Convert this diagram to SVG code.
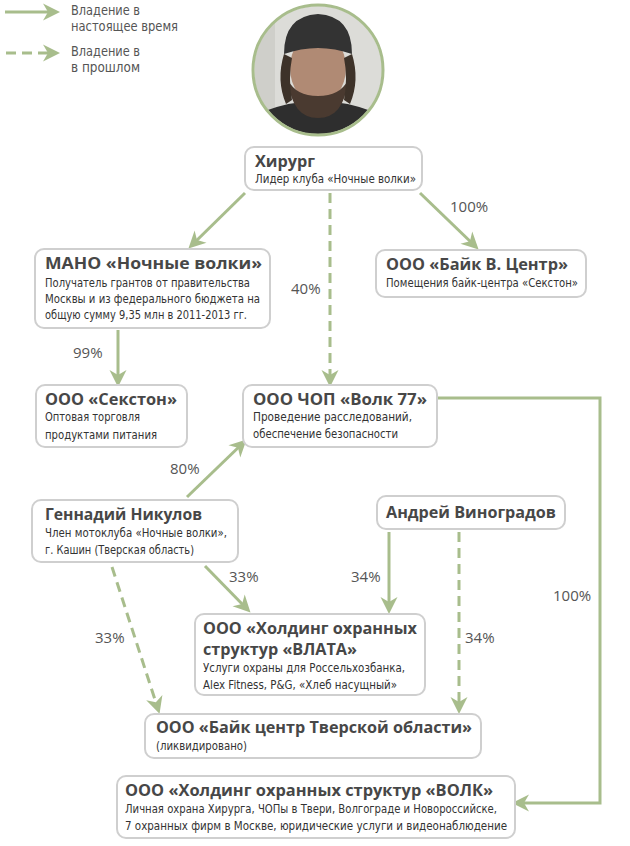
<svg xmlns="http://www.w3.org/2000/svg" width="630" height="846" viewBox="0 0 630 846">
<style>
.box{fill:#fff;stroke:#cfcfcf;stroke-width:2}
.t{font-family:"Open Sans","Liberation Sans",sans-serif;font-weight:700;font-size:16px;fill:#474747}
.s{font-family:"DejaVu Sans Condensed","Liberation Sans",sans-serif;font-stretch:condensed;font-size:12.8px;fill:#333}
.lg{font-family:"DejaVu Sans Condensed","Liberation Sans",sans-serif;font-stretch:condensed;font-size:14px;fill:#555}
.p{font-family:"Open Sans","Liberation Sans",sans-serif;font-size:15px;fill:#555}
.c{fill:none;stroke:#a8bd8c;stroke-width:3}
.d{fill:none;stroke:#a8bd8c;stroke-width:3;stroke-dasharray:10 6}
</style>
<defs>
<marker id="ah" viewBox="-18 -10 20 20" refX="-5" refY="0" markerWidth="20" markerHeight="20" markerUnits="userSpaceOnUse" orient="auto">
<path d="M0,0 L-17,-8.5 L-12,0 L-17,8.5 Z" fill="#a8bd8c"/>
</marker>
<clipPath id="pc"><circle cx="318" cy="70" r="64"/></clipPath>
</defs>
<rect width="630" height="846" fill="#fff"/>

<g id="legend">
<line class="c" x1="5" y1="12" x2="55" y2="12" marker-end="url(#ah)"/>
<text class="lg" x="71" y="15" textLength="69" lengthAdjust="spacingAndGlyphs">Владение в</text>
<text class="lg" x="71" y="31" textLength="107" lengthAdjust="spacingAndGlyphs">настоящее время</text>
<line class="d" x1="6" y1="53" x2="55" y2="53" stroke-dasharray="7 6" marker-end="url(#ah)"/>
<text class="lg" x="71" y="56" textLength="69" lengthAdjust="spacingAndGlyphs">Владение в</text>
<text class="lg" x="71" y="72" textLength="69" lengthAdjust="spacingAndGlyphs">в прошлом</text>
</g>

<g id="photo">
<g clip-path="url(#pc)">
<rect x="250" y="2" width="140" height="140" fill="#dcdcd8"/>
<rect x="255" y="2" width="20" height="140" fill="#cfcfca"/>
<path d="M250,142 L262,112 Q318,90 374,112 L386,142 Z" fill="#2e2e2e"/>
<ellipse cx="318" cy="68" rx="28" ry="36" fill="#b08a74"/>
<path d="M288,80 Q292,118 318,118 Q344,118 348,80 Q340,96 318,96 Q296,96 288,80 Z" fill="#4a3a30"/>
<path d="M284,54 Q284,16 318,14 Q352,16 352,54 Q318,42 284,54 Z" fill="#333"/>
<path d="M284,54 Q276,80 286,104 L292,100 Q288,78 292,58 Z" fill="#3d3229"/>
<path d="M352,54 Q360,80 350,104 L344,100 Q348,78 344,58 Z" fill="#3d3229"/>
</g>
<circle cx="318" cy="70" r="65" fill="none" stroke="#a8bd8c" stroke-width="3"/>
</g>

<g id="connectors">
<line class="c" x1="245" y1="193" x2="192" y2="245" marker-end="url(#ah)"/>
<line class="c" x1="420" y1="193" x2="475" y2="246" marker-end="url(#ah)"/>
<line class="d" x1="330" y1="193" x2="330" y2="382" marker-end="url(#ah)"/>
<line class="c" x1="118" y1="330" x2="118" y2="382" marker-end="url(#ah)"/>
<polyline class="c" points="437,398 600,398 600,803 517,803" marker-end="url(#ah)"/>
<line class="c" x1="187" y1="497" x2="243" y2="443" marker-end="url(#ah)"/>
<line class="c" x1="205" y1="566" x2="247" y2="609" marker-end="url(#ah)"/>
<line class="d" x1="112" y1="567" x2="158" y2="709" marker-end="url(#ah)"/>
<line class="c" x1="389" y1="532" x2="389" y2="609" marker-end="url(#ah)"/>
<line class="d" x1="459" y1="532" x2="459" y2="709" marker-end="url(#ah)"/>
<text class="p" x="450" y="212">100%</text>
<text class="p" x="291" y="294">40%</text>
<text class="p" x="73" y="358">99%</text>
<text class="p" x="170" y="474">80%</text>
<text class="p" x="229" y="582">33%</text>
<text class="p" x="351" y="582">34%</text>
<text class="p" x="95" y="643">33%</text>
<text class="p" x="465" y="643">34%</text>
<text class="p" x="553" y="601">100%</text>
</g>

<g id="khirurg">
<rect class="box" x="245" y="147" width="177" height="43" rx="9"/>
<text class="t" x="255" y="167" textLength="60" lengthAdjust="spacingAndGlyphs">Хирург</text>
<text class="s" x="255" y="183" textLength="161" lengthAdjust="spacingAndGlyphs">Лидер клуба «Ночные волки»</text>
</g>

<g id="mano">
<rect class="box" x="35" y="249" width="235" height="79" rx="9"/>
<text class="t" x="45" y="269" textLength="217" lengthAdjust="spacingAndGlyphs">МАНО «Ночные волки»</text>
<text class="s" x="45" y="287" textLength="205" lengthAdjust="spacingAndGlyphs">Получатель грантов от правительства</text>
<text class="s" x="45" y="303" textLength="215" lengthAdjust="spacingAndGlyphs">Москвы и из федерального бюджета на</text>
<text class="s" x="45" y="319" textLength="202" lengthAdjust="spacingAndGlyphs">общую сумму 9,35 млн в 2011-2013 гг.</text>
</g>

<g id="bikev">
<rect class="box" x="376" y="250" width="210" height="47" rx="9"/>
<text class="t" x="386" y="270" textLength="182" lengthAdjust="spacingAndGlyphs">ООО «Байк В. Центр»</text>
<text class="s" x="386" y="287" textLength="192" lengthAdjust="spacingAndGlyphs">Помещения байк-центра «Секстон»</text>
</g>

<g id="sexton">
<rect class="box" x="36" y="385" width="151" height="62" rx="9"/>
<text class="t" x="45" y="405" textLength="132" lengthAdjust="spacingAndGlyphs">ООО «Секстон»</text>
<text class="s" x="45" y="421" textLength="95" lengthAdjust="spacingAndGlyphs">Оптовая торговля</text>
<text class="s" x="45" y="439" textLength="112" lengthAdjust="spacingAndGlyphs">продуктами питания</text>
</g>

<g id="volk77">
<rect class="box" x="243" y="385" width="194" height="62" rx="9"/>
<text class="t" x="253" y="405" textLength="174" lengthAdjust="spacingAndGlyphs">ООО ЧОП «Волк 77»</text>
<text class="s" x="253" y="421" textLength="159" lengthAdjust="spacingAndGlyphs">Проведение расследований,</text>
<text class="s" x="253" y="438" textLength="145" lengthAdjust="spacingAndGlyphs">обеспечение безопасности</text>
</g>

<g id="nikulov">
<rect class="box" x="32" y="500" width="206" height="62" rx="9"/>
<text class="t" x="45" y="520" textLength="157" lengthAdjust="spacingAndGlyphs">Геннадий Никулов</text>
<text class="s" x="45" y="537" textLength="182" lengthAdjust="spacingAndGlyphs">Член мотоклуба «Ночные волки»,</text>
<text class="s" x="45" y="554" textLength="149" lengthAdjust="spacingAndGlyphs">г. Кашин (Тверская область)</text>
</g>

<g id="vinogradov">
<rect class="box" x="377" y="496" width="188" height="33" rx="9"/>
<text class="t" x="386" y="518" textLength="170" lengthAdjust="spacingAndGlyphs">Андрей Виноградов</text>
</g>

<g id="vlata">
<rect class="box" x="195" y="614" width="230" height="81" rx="9"/>
<text class="t" x="203" y="634" textLength="214" lengthAdjust="spacingAndGlyphs">ООО «Холдинг охранных</text>
<text class="t" x="203" y="655" textLength="154" lengthAdjust="spacingAndGlyphs">структур «ВЛАТА»</text>
<text class="s" x="203" y="672" textLength="202" lengthAdjust="spacingAndGlyphs">Услуги охраны для Россельхозбанка,</text>
<text class="s" x="203" y="689" textLength="194" lengthAdjust="spacingAndGlyphs">Alex Fitness, P&amp;G, «Хлеб насущный»</text>
</g>

<g id="biketver">
<rect class="box" x="145" y="714" width="336" height="44" rx="9"/>
<text class="t" x="156" y="733" textLength="316" lengthAdjust="spacingAndGlyphs">ООО «Байк центр Тверской области»</text>
<text class="s" x="156" y="750" textLength="91" lengthAdjust="spacingAndGlyphs">(ликвидировано)</text>
</g>

<g id="volk">
<rect class="box" x="117" y="776" width="398" height="62" rx="9"/>
<text class="t" x="125" y="796" textLength="368" lengthAdjust="spacingAndGlyphs">ООО «Холдинг охранных структур «ВОЛК»</text>
<text class="s" x="125" y="813" textLength="372" lengthAdjust="spacingAndGlyphs">Личная охрана Хирурга, ЧОПы в Твери, Волгограде и Новороссийске,</text>
<text class="s" x="125" y="830" textLength="382" lengthAdjust="spacingAndGlyphs">7 охранных фирм в Москве, юридические услуги и видеонаблюдение</text>
</g>
</svg>
